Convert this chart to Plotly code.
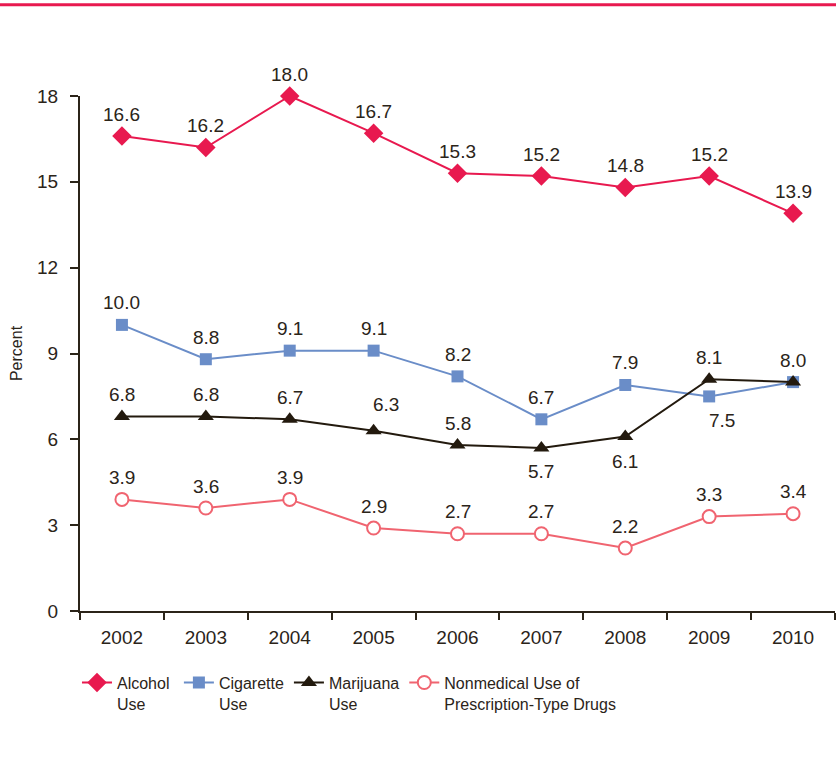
import plotly.graph_objects as go

# ── Data ─────────────────────────────────────────────────────────────────────
YEARS = ["2002", "2003", "2004", "2005", "2006", "2007", "2008", "2009", "2010"]
ALCOHOL = [16.6, 16.2, 18.0, 16.7, 15.3, 15.2, 14.8, 15.2, 13.9]
CIGARETTE = [10.0, 8.8, 9.1, 9.1, 8.2, 6.7, 7.9, 7.5, 8.0]
MARIJUANA = [6.8, 6.8, 6.7, 6.3, 5.8, 5.7, 6.1, 8.1, 8.0]
PRESCRIPTION = [3.9, 3.6, 3.9, 2.9, 2.7, 2.7, 2.2, 3.3, 3.4]

# ── Palette ──────────────────────────────────────────────────────────────────
TEXT = "#2b2419"
C_ALC = "#e8194f"
C_CIG = "#6a8dc8"
C_MAR = "#231a0e"
C_RX = "#f06470"

FONT = "Liberation Sans, Arial, sans-serif"
NB = "\u00a0"

fig = go.Figure()

series = [
    ("Alcohol" + NB + "<br>Use", ALCOHOL, C_ALC, dict(symbol="diamond", size=15, color=C_ALC)),
    ("Cigarette<br>Use", CIGARETTE, C_CIG, dict(symbol="square", size=12, color=C_CIG)),
    ("Marijuana<br>Use", MARIJUANA, C_MAR, dict(symbol="triangle-up", size=14, color=C_MAR)),
    ("Nonmedical Use of<br>Prescription-Type Drugs", PRESCRIPTION, C_RX,
     dict(symbol="circle", size=13, color="white", line=dict(color=C_RX, width=2))),
]

for name, vals, color, marker in series:
    fig.add_trace(go.Scatter(
        x=YEARS, y=vals, name=name, mode="lines+markers",
        line=dict(color=color, width=2), marker=marker, cliponaxis=False,
        hovertemplate="%{x}: %{y:.1f}%<extra></extra>",
    ))

# ── Value labels (pixel offsets to dodge overlapping lines) ──────────────────
label_shift = {
    "alc": {},
    "cig": {7: (13, -24)},
    "mar": {3: (12, 26), 5: (0, -24), 6: (0, -25)},
    "rx": {},
}
skip = {("mar", 8)}  # 2010 shares its label with cigarette (both 8.0)

for key, vals in [("alc", ALCOHOL), ("cig", CIGARETTE), ("mar", MARIJUANA), ("rx", PRESCRIPTION)]:
    for i, v in enumerate(vals):
        if (key, i) in skip:
            continue
        xs, ys = label_shift[key].get(i, (0, 22))
        fig.add_annotation(
            x=i, y=v, text=f"{v:.1f}", showarrow=False,
            xshift=xs, yshift=ys, yanchor="middle",
            font=dict(size=19, color=TEXT, family=FONT),
        )

# top rule
fig.add_shape(type="line", xref="paper", yref="paper",
              x0=-0.2, x1=1.2, y0=1.1773, y1=1.1773,
              line=dict(color=C_ALC, width=3))

fig.update_layout(
    width=836, height=762,
    paper_bgcolor="white", plot_bgcolor="white",
    font=dict(family=FONT, color=TEXT, size=16),
    margin=dict(l=80, r=1, t=96, b=151),
    showlegend=True,
    legend=dict(orientation="h", x=-0.004, xanchor="left", y=-0.106, yanchor="top",
                font=dict(size=16, color=TEXT), itemwidth=30,
                traceorder="normal", valign="top"),
)
fig.update_xaxes(
    type="category", range=[-0.5, 8.5], showgrid=False, zeroline=False,
    showline=True, linecolor=TEXT, linewidth=2,
    ticks="outside", tickson="boundaries", ticklen=7, tickwidth=2, tickcolor=TEXT,
    ticklabelstandoff=8, tickfont=dict(size=19, color=TEXT),
)
fig.update_yaxes(
    range=[0, 18], tickvals=[0, 3, 6, 9, 12, 15, 18], showgrid=False, zeroline=False,
    showline=True, linecolor=TEXT, linewidth=2,
    ticks="outside", ticklen=8, tickwidth=2, tickcolor=TEXT,
    ticklabelstandoff=8, tickfont=dict(size=19, color=TEXT),
    title=dict(text="Percent", font=dict(size=16, color=TEXT), standoff=10),
)

# drop the browser's default body margin so the figure sits at the page origin
fig.write_html("out.html", config={"displayModeBar": False},
               post_script="document.body.style.margin='0';")
